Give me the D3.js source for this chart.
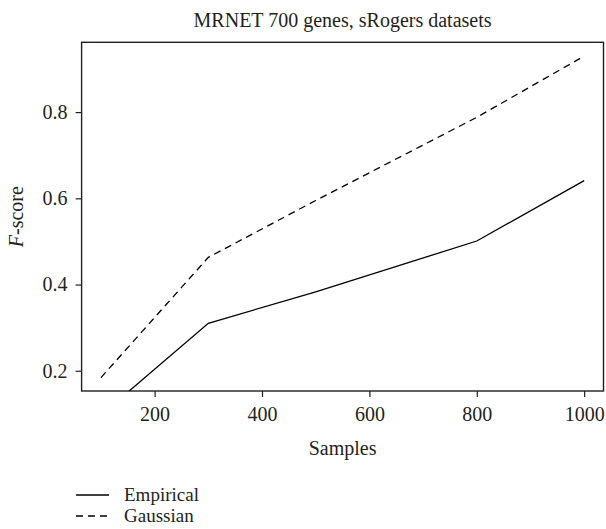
<!DOCTYPE html>
<html>
<head>
<meta charset="utf-8">
<script src="https://cdn.jsdelivr.net/npm/d3@7"></script>
<style>
  body { margin: 0; background: #fff; }
  text { font-family: "Liberation Serif", "DejaVu Serif", serif; fill: #231f20; }
</style>
</head>
<body>
<div id="chart"></div>
<script>
// data
const samples = [100, 300, 500, 800, 1000];
const empirical = [0.097, 0.31, 0.383, 0.501, 0.641];
const gaussian = [0.184, 0.463, 0.595, 0.788, 0.930];
const xTicks = [200, 400, 600, 800, 1000];
const yTicks = [0.2, 0.4, 0.6, 0.8];
const seriesNames = ["Empirical", "Gaussian"];

const width = 606, height = 529;
const margin = { left: 81.6, right: 2.5, top: 42.3, bottom: 138 };

let svg = d3.select("#chart").append("svg")
    .attr("width", width)
    .attr("height", height);

// R style: 4% padding on both ends
let x = d3.scaleLinear().domain([64, 1036]).range([margin.left, width - margin.right]);
let y = d3.scaleLinear().domain([0.153, 0.962]).range([height - margin.bottom, margin.top]);

svg.append("defs").append("clipPath").attr("id", "plotClip")
    .append("rect")
    .attr("x", margin.left).attr("y", margin.top)
    .attr("width", width - margin.right - margin.left)
    .attr("height", height - margin.bottom - margin.top);

// axes
let xAxis = svg.append("g")
    .attr("transform", "translate(0," + (height - margin.bottom) + ")")
    .call(d3.axisBottom(x).tickValues(xTicks).tickSize(6).tickPadding(10).tickFormat(d3.format("d")));
let yAxis = svg.append("g")
    .attr("transform", "translate(" + margin.left + ",0)")
    .call(d3.axisLeft(y).tickValues(yTicks).tickSize(6).tickPadding(8).tickFormat(d3.format(".1f")));

[xAxis, yAxis].forEach(function (a) {
    a.select(".domain").remove();
    a.selectAll("line").attr("stroke", "#231f20").attr("stroke-width", 1.2);
    a.selectAll("text").style("font-size", "20px").attr("fill", "#231f20");
});

// box
svg.append("rect")
    .attr("x", margin.left).attr("y", margin.top)
    .attr("width", width - margin.right - margin.left)
    .attr("height", height - margin.bottom - margin.top)
    .attr("fill", "none")
    .attr("stroke", "#231f20")
    .attr("stroke-width", 1.4);

// the lines
let line = d3.line()
    .x(function (d, i) { return x(samples[i]); })
    .y(function (d) { return y(d); });

let plot = svg.append("g").attr("clip-path", "url(#plotClip)");
plot.append("path")
    .datum(empirical)
    .attr("d", line)
    .attr("fill", "none")
    .attr("stroke", "#000")
    .attr("stroke-width", 1.3);
plot.append("path")
    .datum(gaussian)
    .attr("d", line)
    .attr("fill", "none")
    .attr("stroke", "#000")
    .attr("stroke-width", 1.3)
    .attr("stroke-dasharray", "7,5");

// titles
svg.append("text")
    .attr("x", (margin.left + width - margin.right) / 2)
    .attr("y", 27)
    .attr("text-anchor", "middle")
    .style("font-size", "20px")
    .text("MRNET 700 genes, sRogers datasets");

svg.append("text")
    .attr("x", (margin.left + width - margin.right) / 2)
    .attr("y", 455)
    .attr("text-anchor", "middle")
    .style("font-size", "20px")
    .text("Samples");

let yLab = svg.append("text")
    .attr("transform", "translate(23," + ((margin.top + height - margin.bottom) / 2) + ") rotate(-90)")
    .attr("text-anchor", "middle")
    .style("font-size", "20px");
yLab.append("tspan").style("font-style", "italic").text("F");
yLab.append("tspan").text("-score");

// legend
let legend = svg.append("g");
let legendY = [495, 516];
seriesNames.forEach(function (name, i) {
    legend.append("line")
        .attr("x1", 76).attr("x2", 109)
        .attr("y1", legendY[i]).attr("y2", legendY[i])
        .attr("stroke", "#000")
        .attr("stroke-width", 1.3)
        .attr("stroke-dasharray", i == 1 ? "7,5" : null);
    legend.append("text")
        .attr("x", 124)
        .attr("y", legendY[i] + 6)
        .style("font-size", "19px")
        .text(name);
});
</script>
</body>
</html>
